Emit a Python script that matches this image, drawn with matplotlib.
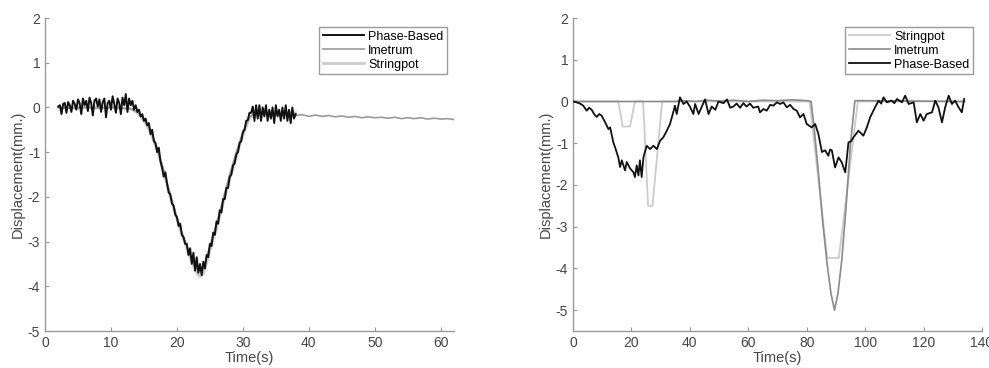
import matplotlib
matplotlib.use("Agg")
import matplotlib.pyplot as plt

plt.rcParams['font.family'] = ['Liberation Sans', 'DejaVu Sans']
plt.rcParams['axes.unicode_minus'] = False

# ---- left panel data (time s, displacement mm) ----
left_phase = [
    (2.0, 0.02), (2.25, 0.05), (2.5, -0.15), (2.75, 0.08), (3.0, 0.1), (3.25, -0.12), (3.5, 0.12), (3.75, 0.05),
    (4.0, -0.1), (4.25, 0.15), (4.5, 0.08), (4.75, -0.05), (5.0, 0.18), (5.25, 0.1), (5.5, -0.15), (5.75, 0.2),
    (6.0, 0.05), (6.25, 0.15), (6.5, -0.08), (6.75, 0.22), (7.0, 0.1), (7.25, -0.18), (7.5, 0.15), (7.75, 0.2),
    (8.0, 0.02), (8.25, 0.18), (8.5, -0.1), (8.75, 0.12), (9.0, 0.2), (9.25, -0.22), (9.5, 0.1), (9.75, 0.15),
    (10.0, -0.05), (10.25, 0.25), (10.5, 0.08), (10.75, -0.12), (11.0, 0.2), (11.25, 0.1), (11.5, -0.15), (11.75, 0.22),
    (12.0, 0.05), (12.25, 0.3), (12.5, -0.1), (12.75, 0.2), (13.0, 0.05), (13.25, 0.15), (13.5, -0.05), (13.75, 0.05),
    (14.0, -0.1), (14.25, -0.05), (14.5, -0.2), (14.75, -0.15), (15.0, -0.3), (15.25, -0.25), (15.5, -0.4), (15.75, -0.35),
    (16.0, -0.6), (16.25, -0.5), (16.5, -0.75), (16.75, -0.8), (17.0, -1.0), (17.25, -0.9), (17.5, -1.2), (17.75, -1.35),
    (18.0, -1.55), (18.25, -1.45), (18.5, -1.7), (18.75, -1.9), (19.0, -1.95), (19.25, -2.15), (19.5, -2.2), (19.75, -2.4),
    (20.0, -2.45), (20.25, -2.65), (20.5, -2.6), (20.75, -2.85), (21.0, -2.9), (21.25, -3.05), (21.5, -3.05), (21.75, -3.3),
    (22.0, -3.15), (22.25, -3.5), (22.5, -3.25), (22.75, -3.65), (23.0, -3.35), (23.25, -3.7), (23.5, -3.5), (23.75, -3.75),
    (24.0, -3.45), (24.25, -3.6), (24.5, -3.3), (24.75, -3.35), (25.0, -3.05), (25.25, -3.1), (25.5, -2.8), (25.75, -2.85),
    (26.0, -2.55), (26.25, -2.6), (26.5, -2.3), (26.75, -2.35), (27.0, -2.05), (27.25, -2.05), (27.5, -1.8), (27.75, -1.8),
    (28.0, -1.55), (28.25, -1.5), (28.5, -1.3), (28.75, -1.25), (29.0, -1.05), (29.25, -1.0), (29.5, -0.8), (29.75, -0.75),
    (30.0, -0.55), (30.25, -0.5), (30.5, -0.3), (30.75, -0.28), (31.0, -0.12), (31.25, -0.12), (31.5, 0.02), (31.75, -0.3),
    (32.0, 0.05), (32.25, -0.25), (32.5, 0.05), (32.75, -0.3), (33.0, 0.0), (33.25, -0.2), (33.5, 0.05), (33.75, -0.3),
    (34.0, -0.05), (34.25, -0.25), (34.5, 0.0), (34.75, -0.35), (35.0, 0.05), (35.25, -0.2), (35.5, -0.05), (35.75, -0.3),
    (36.0, 0.0), (36.25, -0.25), (36.5, 0.05), (36.75, -0.3), (37.0, -0.05), (37.25, -0.35), (37.5, 0.0), (37.75, -0.25),
    (38.0, -0.15),
]
left_imetrum_t = [2, 4, 6, 8, 10, 12, 13, 14, 15, 16, 17, 18, 19, 20, 21, 22, 23, 23.5, 24, 25, 26, 27, 28, 29, 30,
                  31, 31.5, 32, 33, 34, 35, 36, 37, 38, 39, 40, 41, 42, 43, 44, 45, 46, 47, 48, 49, 50, 51, 52, 53,
                  54, 55, 56, 57, 58, 59, 60, 61, 62]
left_imetrum_v = [0.0, -0.02, 0.0, -0.02, 0.0, -0.02, -0.03, -0.1, -0.25, -0.5, -0.9, -1.4, -1.95, -2.45, -2.9, -3.3,
                  -3.6, -3.65, -3.6, -3.1, -2.6, -2.05, -1.5, -1.0, -0.55, -0.22, -0.15, -0.16, -0.14, -0.17, -0.15,
                  -0.17, -0.15, -0.18, -0.16, -0.2, -0.17, -0.2, -0.18, -0.21, -0.19, -0.22, -0.2, -0.23, -0.21,
                  -0.23, -0.22, -0.24, -0.22, -0.25, -0.23, -0.25, -0.23, -0.26, -0.24, -0.26, -0.25, -0.27]
left_string_t = [2, 6, 10, 13, 14, 15, 16, 17, 18, 19, 20, 21, 22, 23, 23.5, 24, 25, 26, 27, 28, 29, 30, 31, 32, 35, 38]
left_string_v = [0.0, 0.0, 0.0, -0.03, -0.12, -0.3, -0.55, -0.95, -1.45, -2.0, -2.5, -2.95, -3.35, -3.7, -3.78, -3.72,
                 -3.2, -2.7, -2.15, -1.6, -1.1, -0.62, -0.25, -0.12, -0.12, -0.12]

# ---- right panel data ----
right_string_t = [0, 15.5, 17, 19.5, 21.2, 24, 25.7, 27.2, 30.5, 81, 87, 91, 97.5, 134]
right_string_v = [0, 0, -0.6, -0.6, 0, 0, -2.5, -2.5, 0, 0, -3.75, -3.75, 0, 0]
right_imetrum_t = [0, 35, 38, 42, 46, 50, 55, 60, 65, 70, 75, 80, 81.5, 82.5, 84, 85.5, 87, 88.3, 89.5, 90.7, 92,
                   93.5, 95, 96.5, 100, 134]
right_imetrum_v = [0, 0, 0.02, 0.0, 0.03, 0.01, 0.03, 0.0, 0.03, 0.02, 0.04, 0.02, 0, -0.6, -1.7, -2.9, -3.9, -4.6,
                   -5.0, -4.6, -3.8, -2.5, -1.0, 0.02, 0.02, 0]
right_phase = [
    (0, 0), (1.2, -0.02), (2.4, -0.05), (3.5, -0.1), (4.7, -0.22), (5.5, -0.15), (6.4, -0.2), (7.2, -0.3),
    (8.1, -0.37), (9.0, -0.3), (9.8, -0.34), (11, -0.5), (12.1, -0.66), (12.7, -0.62), (13.8, -0.98), (14.4, -1.1),
    (15.5, -1.34), (16.1, -1.57), (16.7, -1.41), (17.8, -1.65), (18.4, -1.45), (19.5, -1.6), (20.7, -1.7),
    (21.2, -1.81), (21.8, -1.53), (22.4, -1.77), (22.9, -1.41), (23.5, -1.81), (24.1, -1.34), (25.2, -1.06),
    (26.4, -1.14), (27.5, -1.06), (28.7, -1.14), (29.8, -0.94), (30.9, -0.86), (32.1, -0.7), (33.2, -0.54),
    (34.3, -0.26), (34.9, -0.1), (35.5, -0.3), (36.6, 0.1), (37.8, -0.06), (38.9, 0.0), (40, -0.12), (41.2, -0.3),
    (41.8, -0.06), (43, -0.3), (44.1, -0.12), (45.2, 0.05), (46.4, -0.3), (47.5, -0.12), (48.7, -0.2),
    (49.8, 0.0), (51.5, -0.04), (52.7, 0.05), (53.8, -0.15), (54.9, -0.12), (56, -0.05), (57.2, -0.15),
    (58.3, -0.04), (59.4, -0.12), (60.6, -0.05), (61.7, -0.15), (63.4, -0.12), (64, -0.26), (65.2, -0.18),
    (66.3, -0.22), (67.5, -0.08), (68.6, -0.1), (69.8, -0.02), (70.9, -0.06), (72, -0.02), (73.2, -0.14),
    (74.3, -0.08), (75.5, -0.18), (76.6, -0.22), (77.7, -0.38), (78.9, -0.3), (80, -0.54), (81.7, -0.62),
    (82.9, -0.54), (84, -0.78), (85.2, -1.21), (86.3, -1.17), (87.4, -1.3), (88.0, -1.15), (88.6, -1.17),
    (89.7, -1.58), (90.9, -1.34), (92, -1.46), (93.2, -1.7), (94.3, -0.98), (95.2, -0.95), (96, -0.86),
    (97.7, -0.7), (99.4, -0.82), (100.6, -0.62), (101.7, -0.38), (103.4, -0.14), (104.6, 0.02), (105.5, -0.05),
    (106.3, 0.1), (107.4, -0.02), (109.1, 0.02), (110.0, -0.04), (110.9, 0.06), (112.6, -0.02), (113.7, 0.14),
    (114.9, -0.06), (116.6, -0.02), (117.7, -0.5), (118.9, -0.3), (120, -0.46), (121.1, -0.3), (122.9, -0.26),
    (124, 0.02), (125.1, -0.14), (126.3, -0.5), (127.4, -0.14), (128.6, 0.14), (129.7, -0.06), (130.8, 0.02),
    (132, -0.14), (133.1, -0.26), (133.9, 0.06),
]

BLACK = '#111111'
IMETRUM_L = '#9a9a9a'
IMETRUM_R = '#8a8a8a'
STRING = '#cccccc'
AXIS = '#9a9a9a'
TEXT = '#454545'


def style_axes(ax):
    for s in ['top', 'right']:
        ax.spines[s].set_visible(False)
    for s in ['left', 'bottom']:
        ax.spines[s].set_color(AXIS)
        ax.spines[s].set_linewidth(1.0)
    ax.tick_params(direction='in', length=3, color=AXIS, labelcolor=TEXT, labelsize=10)
    ax.set_yticks(range(-5, 3))
    ax.set_xlabel('Time(s)', color=TEXT, fontsize=10.5, labelpad=1)
    ax.set_ylabel('Displacement(mm.)', color=TEXT, fontsize=10.5, labelpad=2)


fig = plt.figure(figsize=(9.89, 3.68), dpi=100)
ax1 = fig.add_axes([0.0455, 0.1005, 0.4135, 0.8505])
ax2 = fig.add_axes([0.5794, 0.1005, 0.4135, 0.8505])

ax1.plot(left_string_t, left_string_v, color=STRING, lw=2.0, label='Stringpot', zorder=1)
ax1.plot(left_imetrum_t, left_imetrum_v, color=IMETRUM_L, lw=1.2, label='Imetrum', zorder=2)
ax1.plot([p[0] for p in left_phase], [p[1] for p in left_phase], color=BLACK, lw=1.4,
         label='Phase-Based', zorder=3)
ax1.set_xlim(0, 62)
ax1.set_ylim(-5, 2)
ax1.set_xticks(range(0, 61, 10))
style_axes(ax1)
h, l = ax1.get_legend_handles_labels()
ax1.legend(h[::-1], l[::-1], loc='upper right', bbox_to_anchor=(0.983, 0.971), borderaxespad=0, fontsize=9,
           fancybox=False, edgecolor=AXIS, framealpha=1, handlelength=3.3, labelspacing=0.15,
           handletextpad=0.3, borderpad=0.3)

ax2.plot(right_string_t, right_string_v, color=STRING, lw=1.3, label='Stringpot', zorder=2)
ax2.plot(right_imetrum_t, right_imetrum_v, color=IMETRUM_R, lw=1.2, label='Imetrum', zorder=2)
ax2.plot([p[0] for p in right_phase], [p[1] for p in right_phase], color=BLACK, lw=1.3,
         label='Phase-Based', zorder=3)
ax2.set_xlim(0, 140)
ax2.set_ylim(-5.5, 2)
ax2.set_xticks(range(0, 141, 20))
style_axes(ax2)
ax2.legend(loc='upper right', bbox_to_anchor=(0.978, 0.971), borderaxespad=0, fontsize=9,
           fancybox=False, edgecolor=AXIS, framealpha=1, handlelength=3.3, labelspacing=0.15,
           handletextpad=0.3, borderpad=0.3)

fig.savefig('out.png', dpi=100)
